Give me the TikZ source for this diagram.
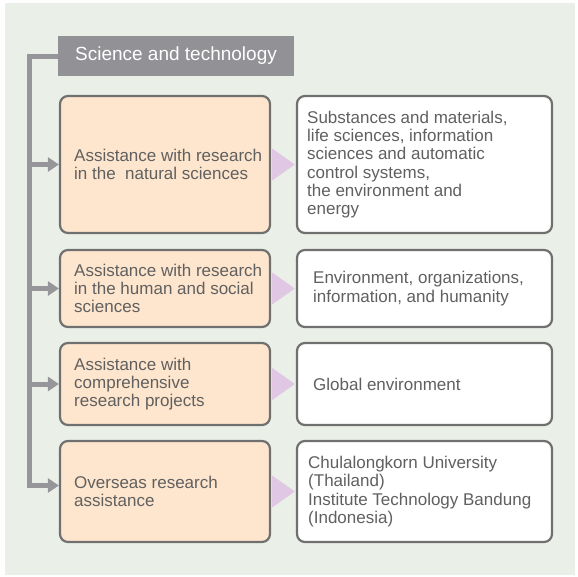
\documentclass[tikz,border=0pt]{standalone}
\usepackage{fontspec}
\setmainfont{Liberation Sans}
\usepackage{xcolor}
\usepackage{tikz}
\usetikzlibrary{arrows.meta}

\definecolor{bggreen}{RGB}{234,240,231}
\definecolor{titlegray}{RGB}{146,146,150}
\definecolor{linegray}{RGB}{150,150,154}
\definecolor{boxgray}{RGB}{112,112,112}
\definecolor{peach}{RGB}{254,229,205}
\definecolor{lilac}{RGB}{224,200,228}
\definecolor{txtgray}{RGB}{96,96,96}

\tikzset{
  topic/.style={draw=boxgray, line width=2.2pt, rounded corners=8pt, fill=peach, inner sep=0pt},
  field/.style={draw=boxgray, line width=2.2pt, rounded corners=8pt, fill=white, inner sep=0pt},
  lbl/.style={anchor=west, align=left, text=txtgray, inner sep=0pt, font=\fontsize{17}{18.2}\selectfont},
  heading/.style={fill=titlegray, text=white, inner sep=0pt, minimum width=236pt, minimum height=40pt, font=\fontsize{19}{22}\selectfont},
  branch/.style={draw=linegray, line width=5pt, -{Triangle[length=11pt,width=14pt]}},
  pointer/.style={fill=lilac}
}

\begin{document}
\begin{tikzpicture}[x=1pt,y=-1pt]
  \useasboundingbox (0,0) rectangle (578,576);
  \fill[bggreen] (5,3) rectangle (575,575);

  \node[topic, minimum width=210pt, minimum height=137pt] (o1) at (165,164.5) {};
  \node[topic, minimum width=210pt, minimum height=77pt] (o2) at (165,288.5) {};
  \node[topic, minimum width=210pt, minimum height=82pt] (o3) at (165,384) {};
  \node[topic, minimum width=210pt, minimum height=101pt] (o4) at (165,491.5) {};
  \node[field, minimum width=255pt, minimum height=137pt] (w1) at (424.5,164.5) {};
  \node[field, minimum width=255pt, minimum height=77pt] (w2) at (424.5,288.5) {};
  \node[field, minimum width=255pt, minimum height=82pt] (w3) at (424.5,384) {};
  \node[field, minimum width=255pt, minimum height=101pt] (w4) at (424.5,491.5) {};

  \foreach \n in {1,...,4}
    \fill[pointer] ([xshift=1.1pt,yshift=16pt]o\n.east) -- ([xshift=-1.1pt]w\n.west)
      -- ([xshift=1.1pt,yshift=-16pt]o\n.east) -- cycle;

  \node[heading] (title) at (176,56) {Science and technology};
  \coordinate (trunk) at (29,56);
  \draw[branch] (title.west) -- (trunk) |- ([yshift=6pt]o4.west);
  \foreach \n in {o1,o2,o3}
    \draw[branch] (trunk |- \n.west) -- (\n.west);

  \node[lbl] (t1) at (74,164.5) {Assistance with research\\in the\ \ natural sciences};
  \node[lbl] (t2) at (74,288.5) {Assistance with research\\in the human and social\\sciences};
  \node[lbl] (t3) at (74,384) {Assistance with\\comprehensive\\research projects};
  \node[lbl] (t4) at (74,491.5) {Overseas research\\assistance};

  \node[lbl] (r1) at (307,164.5) {Substances and materials,\\life sciences, information\\sciences and automatic\\control systems,\\the environment and\\energy};
  \node[lbl] (r2) at (313,288.5) {Environment, organizations,\\information, and humanity};
  \node[lbl] (r3) at (313,384) {Global environment};
  \node[lbl] (r4) at (308,491.5) {Chulalongkorn University\\(Thailand)\\Institute Technology Bandung\\(Indonesia)};
\end{tikzpicture}
\end{document}
